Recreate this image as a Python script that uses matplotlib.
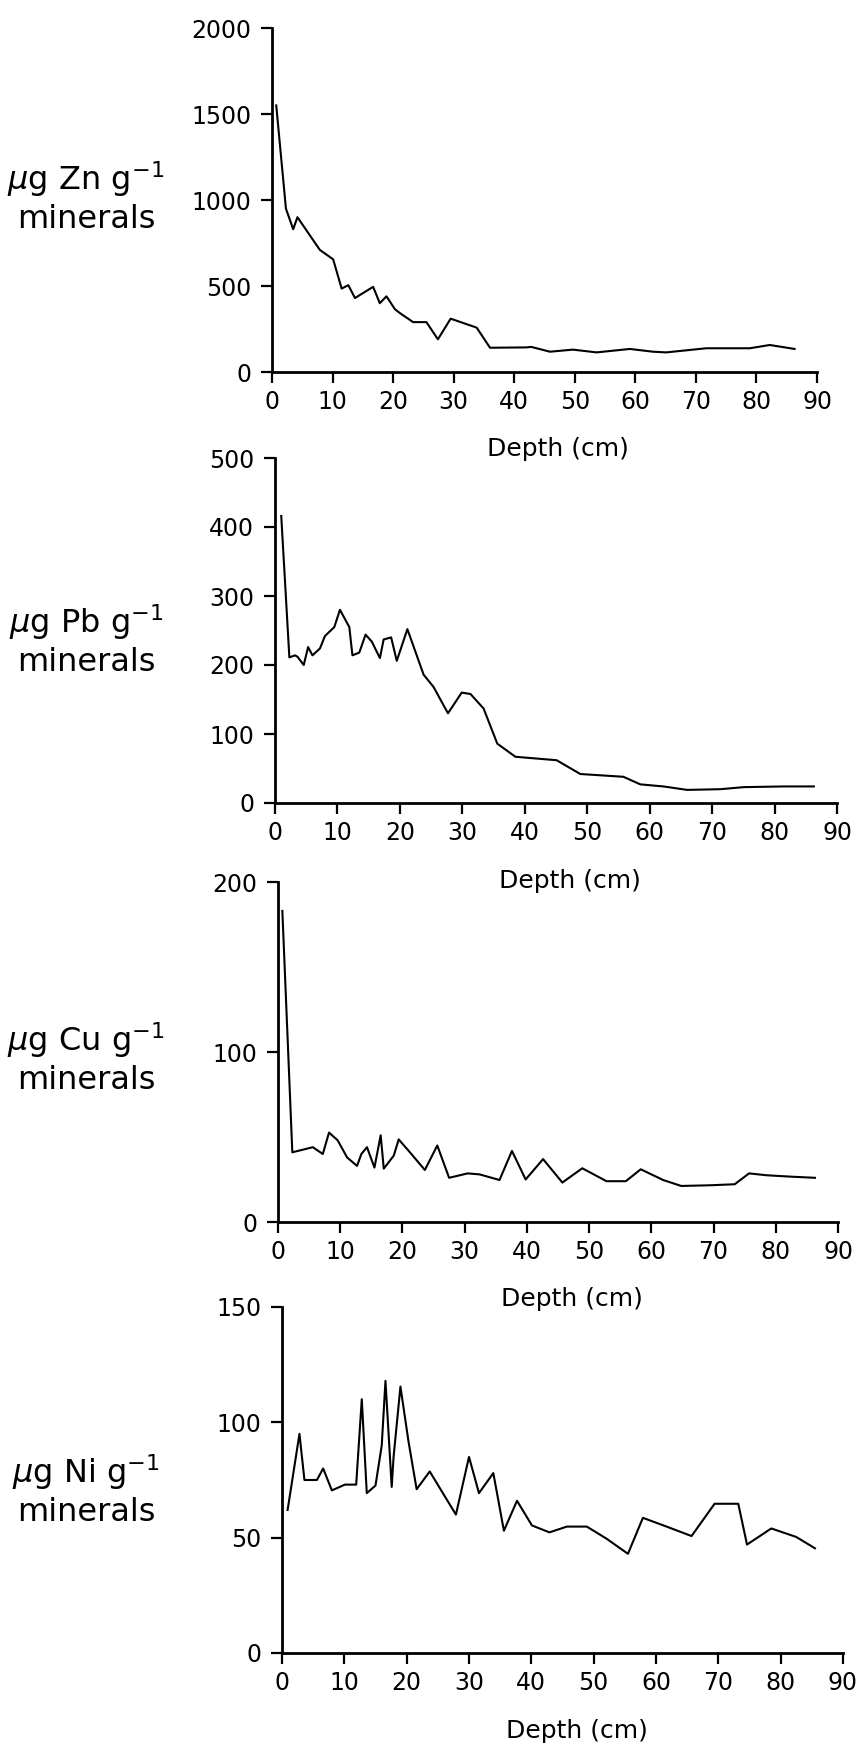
import numpy as np
import matplotlib
matplotlib.use('Agg')
import matplotlib.pyplot as plt

# Depth (cm) and concentrations
zn_depth = [0.7, 2.3, 3.5, 4.2, 7.9, 10.1, 11.5, 12.6, 13.7, 16.7, 17.8, 18.9, 20.3,
            21.1, 23.3, 25.5, 27.4, 29.5, 33.8, 36.0, 42.0, 42.8, 45.9, 49.7, 53.6,
            59.1, 62.9, 65.1, 71.7, 78.9, 82.2, 86.3]
zn_vals = [1550, 950, 830, 900, 710, 655, 485, 505, 430, 495, 400, 440, 365,
           343, 290, 290, 190, 310, 258, 141, 143, 146, 118, 130, 114,
           134, 118, 114, 138, 138, 157, 134]

pb_depth = [1.0, 2.3, 3.2, 3.6, 4.6, 5.3, 6.0, 7.2, 8.0, 9.5, 10.4, 11.9, 12.4, 13.5,
            14.5, 15.5, 16.8, 17.4, 18.6, 19.5, 21.2, 23.8, 25.4, 27.7, 29.9, 31.3,
            33.4, 35.6, 38.5, 45.1, 48.9, 55.8, 58.5, 62.2, 66.0, 71.3, 75.1, 81.5, 86.3]
pb_vals = [416, 211, 214, 212, 200, 226, 214, 224, 242, 255, 280, 255, 214, 218,
           244, 234, 210, 237, 240, 206, 252, 186, 168, 130, 160, 158,
           137, 86, 67, 62, 42, 38, 27, 24, 19, 20, 23, 24, 24]

cu_depth = [0.7, 2.3, 5.6, 7.2, 8.2, 9.6, 11.1, 12.7, 13.4, 14.3, 15.5, 16.5, 17.0,
            18.6, 19.4, 21.2, 23.6, 25.6, 27.5, 30.5, 32.4, 35.6, 37.6, 39.8, 42.6,
            45.7, 48.9, 52.8, 55.9, 58.3, 61.9, 64.8, 69.4, 73.4, 75.7, 78.5, 82.3, 86.3]
cu_vals = [183, 41, 44, 40, 52.6, 48, 38, 33, 40, 44, 32, 51, 31.4,
           39, 48.6, 41, 30.6, 45, 26, 28.6, 28, 24.7, 41.8, 25, 37,
           23.2, 31.6, 24, 24, 31, 24.7, 21.2, 21.6, 22.2, 28.6, 27.5, 26.7, 26]

ni_depth = [0.9, 2.8, 3.6, 5.6, 6.6, 8.0, 10.1, 11.9, 12.8, 13.6, 15.0, 16.0, 16.6,
            17.6, 17.9, 19.0, 20.3, 21.6, 23.7, 27.9, 30.0, 31.6, 33.9, 35.6, 37.7,
            40.1, 42.9, 45.7, 48.9, 52.1, 55.5, 57.9, 61.7, 65.7, 69.4, 73.2, 74.6,
            78.5, 82.5, 85.5]
ni_vals = [62, 95, 75, 75, 80, 70.5, 73, 73, 110, 69.3, 72.6, 90, 118,
           72, 85, 115.5, 91.6, 71, 78.7, 60, 85, 69.3, 78, 53, 66,
           55.3, 52.3, 54.8, 54.8, 49.5, 43, 58.6, 54.8, 50.7, 64.7, 64.7, 47,
           54, 50.3, 45.4]

elements = ['Zn', 'Pb', 'Cu', 'Ni']
y_max = [2000, 500, 200, 150]
y_step = [500, 100, 100, 50]
depths = [zn_depth, pb_depth, cu_depth, ni_depth]
values = [zn_vals, pb_vals, cu_vals, ni_vals]

W, H = 865, 1745
# pixel boxes of the axes: x at depth 0, x at depth 90, y at top value, y at 0
boxes = [(272, 817, 28, 372),
         (275, 837, 458, 803),
         (278, 838, 882, 1222),
         (282, 843, 1307, 1653)]
label_y = [197, 640, 1058, 1490]

plt.rcParams['font.family'] = 'DejaVu Sans'
fig = plt.figure(figsize=(W / 100, H / 100), dpi=100)

for i, el in enumerate(elements):
    x0, x1, yt, yb = boxes[i]
    ax = fig.add_axes([x0 / W, 1 - yb / H, (x1 - x0) / W, (yb - yt) / H])
    ax.patch.set_visible(False)  # keep the Depth label of the panel above visible
    ax.plot(depths[i], values[i], color='black', lw=1.5)
    ax.set_xlim(0, 90)
    ax.set_ylim(0, y_max[i])
    ax.set_xticks(np.arange(0, 91, 10))
    ax.set_yticks(np.arange(0, y_max[i] + 1, y_step[i]))
    for s in ['top', 'right']:
        ax.spines[s].set_visible(False)
    for s in ['left', 'bottom']:
        ax.spines[s].set_linewidth(2)
    ax.tick_params(length=8, width=1.6, labelsize=17)
    ax.tick_params(axis='y', pad=7)
    ax.tick_params(axis='x', pad=5)
    ax.set_xlabel('Depth (cm)', fontsize=18)
    ax.xaxis.set_label_coords(0.525, -0.19)
    fig.text(86 / W, 1 - label_y[i] / H,
             r'$\mu$g ' + el + r' g$^{-1}$' + '\nminerals',
             fontsize=23, ha='center', va='center', multialignment='center',
             linespacing=1.2)

fig.savefig('out.png', dpi=100)
